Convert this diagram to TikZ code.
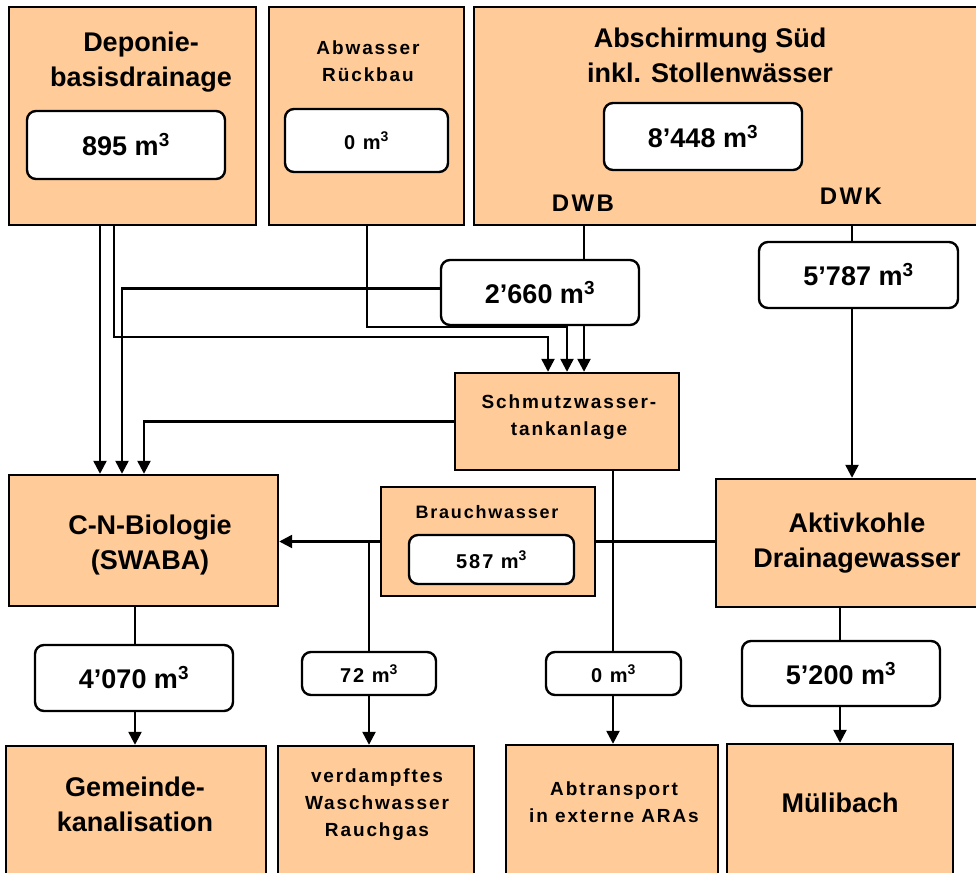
\documentclass[tikz,border=0pt]{standalone}
\usepackage{fontspec}
\setmainfont{Liberation Sans}
\newfontfamily\widefont{Liberation Sans}[LetterSpace=10]
\usetikzlibrary{arrows.meta,backgrounds}
\definecolor{peach}{HTML}{FFCC99}
\tikzset{
	box/.style 2 args={draw,fill=peach,line width=2.4pt,minimum width=#1pt,minimum height=#2pt,inner sep=0pt},
	vbox/.style 2 args={draw,fill=white,line width=2.4pt,rounded corners=9pt,minimum width=#1pt,minimum height=#2pt,inner sep=0pt},
	big/.style={font=\fontsize{27}{35}\selectfont\bfseries,align=center,inner sep=0pt},
	wide/.style={font=\fontsize{19}{27}\selectfont\widefont\bfseries,align=center,inner sep=0pt},
	num/.style={font=\fontsize{27}{35}\selectfont\bfseries},
	snum/.style={font=\fontsize{20}{27}\selectfont\widefont\bfseries},
	flow/.style={line width=2.4pt,-{Triangle[length=13pt,width=13pt]}},
	pipe/.style={line width=2.4pt}
}

\begin{document}
\begin{tikzpicture}[x=1pt,y=-1pt]
	\useasboundingbox (0,0) rectangle (976,872);
	\clip (0,0) rectangle (976,872);
	
	% sources
	\node [box={247}{218}] (depo) at (132.5,116) {};
	\node [big] (depoT) at (141,62) {Deponie-\\basisdrainage};
	\node [vbox={198}{68},num] (v895) at (126,145) {895 m\textsuperscript{3}};
	
	\node [box={195}{218}] (abw) at (366.5,116) {};
	\node [wide] (abwT) at (368,61) {Abwasser\\Rückbau};
	\node [vbox={163}{63},snum] (v0a) at (366.5,140.5) {0 m\textsuperscript{3}};
	
	\node [box={526}{218}] (absch) at (737,116) {};
	\node [big] (abschT) at (710,55) {Abschirmung Süd\\inkl. Stollenwässer};
	\node [vbox={198}{67},num] (v8448) at (703,136.5) {8'448 m\textsuperscript{3}};
	\node [font=\fontsize{24}{30}\selectfont\widefont\bfseries] (dwbT) at (583,203) {DWB};
	\node [font=\fontsize{24}{30}\selectfont\widefont\bfseries] (dwkT) at (851,196) {DWK};
	
	\node [vbox={198}{65},num] (v2660) at (540,292.5) {2'660 m\textsuperscript{3}};
	\node [vbox={199}{66},num] (v5787) at (858.5,275) {5'787 m\textsuperscript{3}};
	
	% treatment
	\node [box={224}{97}] (schmutz) at (567,421.5) {};
	\node [wide] (schmutzT) at (569,417) {Schmutzwasser-\\tankanlage};
	
	\node [box={269}{131}] (cnbio) at (143.5,540.5) {};
	\node [big] (cnbioT) at (150,545) {C-N-Biologie\\(SWABA)};
	
	\node [box={214}{109}] (brauch) at (488,541.5) {};
	\node [wide,font=\fontsize{18}{27}\selectfont\widefont\bfseries] (brauchT) at (487,512) {Brauchwasser};
	\node [vbox={165}{49},snum] (v587) at (491.5,559.5) {587 m\textsuperscript{3}};
	
	\node [box={284}{128}] (aktiv) at (858,543) {};
	\node [big] (aktivT) at (857,543) {Aktivkohle\\Drainagewasser};
	
	% outflows
	\node [vbox={198}{66},num] (v4070) at (134,678) {4'070 m\textsuperscript{3}};
	\node [vbox={134}{43},snum] (v72) at (369,673.5) {72 m\textsuperscript{3}};
	\node [vbox={135}{43},snum] (v0b) at (613.5,673.5) {0 m\textsuperscript{3}};
	\node [vbox={198}{65},num] (v5200) at (841,673.5) {5'200 m\textsuperscript{3}};
	
	\node [box={260}{154}] (gemeinde) at (136,823) {};
	\node [big] (gemeindeT) at (135,804.5) {Gemeinde-\\kanalisation};
	\node [box={196}{154}] (verd) at (376,823) {};
	\node [wide] (verdT) at (377,805) {verdampftes\\Waschwasser\\Rauchgas};
	\node [box={212}{155}] (abtr) at (612,822.5) {};
	\node [wide] (abtrT) at (614,802) {Abtransport\\in externe ARAs};
	\node [box={226}{156}] (muli) at (840,822) {};
	\node [big] (muliT) at (840,803) {Mülibach};
	
	% lanes
	\coordinate (dA) at (100,0);
	\coordinate (dB) at (114,0);
	\coordinate (rA) at (122,0);
	\coordinate (sA) at (144,0);
	\coordinate (cn) at (135,0);
	\coordinate (aw) at (367,0);
	\coordinate (bw) at (369,0);
	\coordinate (m1) at (548,0);
	\coordinate (m2) at (567,0);
	\coordinate (dwb) at (584,0);
	\coordinate (ab) at (613,0);
	\coordinate (ak) at (840,0);
	\coordinate (dwk) at (852,0);
	
	\begin{scope}[on background layer]
		\draw [flow] (depo.south -| dA) -- (cnbio.north -| dA);
		\draw [flow] (depo.south -| dB) -- ++(0,111) -| (schmutz.north -| m1);
		\draw [flow] ([yshift=4pt]v2660.west) -| (cnbio.north -| rA);
		\draw [flow] (abw.south -| aw) -- ++(0,101) -| (schmutz.north -| m2);
		\draw [flow] (absch.south -| dwb) -- (schmutz.north -| dwb);
		\draw [flow] (schmutz.west) -| (cnbio.north -| sA);
		\draw [flow] (absch.south -| dwk) -- (aktiv.north -| dwk);
		\draw [flow] (aktiv.west |- brauch) -- (cnbio.east |- brauch);
		\draw [flow] (bw |- brauch) -- (verd.north -| bw);
		\draw [flow] (schmutz.south -| ab) -- (abtr.north -| ab);
		\draw [flow] (cnbio.south -| cn) -- (gemeinde.north -| cn);
		\draw [flow] (aktiv.south -| ak) -- (muli.north -| ak);
	\end{scope}
\end{tikzpicture}
\end{document}
